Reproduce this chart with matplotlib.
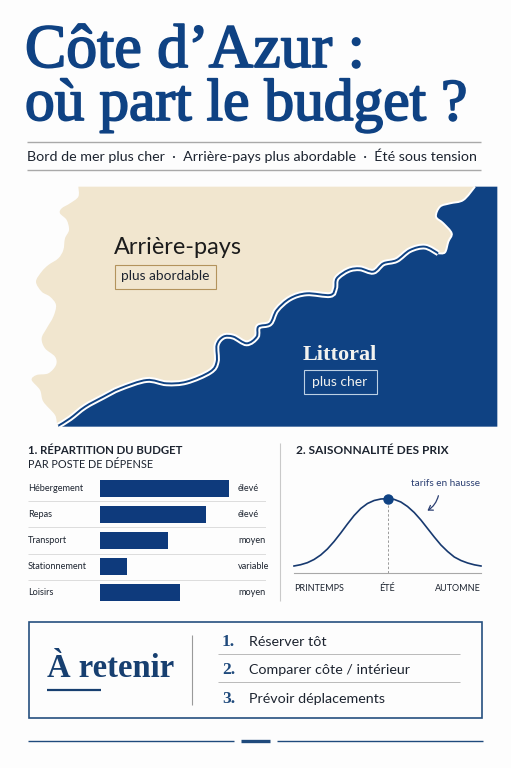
import numpy as np
import matplotlib
matplotlib.use("Agg")
import matplotlib.pyplot as plt
import matplotlib.patheffects as pe
from matplotlib.path import Path
from matplotlib.patches import PathPatch, Rectangle, FancyArrowPatch

W, H = 511, 768
NAVY = "#0f4283"
INK = "#1d2430"
SERIF = "Liberation Serif"
SANS = "Lato"

# bar chart
postes = ["Hébergement", "Repas", "Transport", "Stationnement", "Loisirs"]
poste_vals = [100, 82, 53, 21, 62]
poste_niveaux = ["élevé", "élevé", "moyen", "variable", "moyen"]

# seasonal curve
saison_x = list(range(29))
saison_y = [7, 8.3, 10.3, 13.5, 18, 24, 31.5, 40, 49, 57.5, 64.5, 69.5, 72.5, 74, 74.3,
            73.6, 71, 66.5, 60.5, 53, 44.5, 36, 28, 21.5, 16, 12.5, 10, 8.2, 7]
saison_ticks = [0, 14, 28]
saison_labels = ["PRINTEMPS", "ÉTÉ", "AUTOMNE"]

retenir = ["Réserver tôt", "Comparer côte / intérieur", "Prévoir déplacements"]

terre_gauche = [(175, 35), (175, 65), (150, 85), (125, 100), (120, 115), (140, 135), (147, 165),
                (135, 190), (130, 225), (115, 250), (85, 270), (65, 290), (48, 320), (65, 350),
                (90, 365), (108, 390), (100, 425), (80, 460), (65, 490), (75, 520), (105, 545),
                (108, 570), (85, 595), (50, 600), (35, 615), (60, 645), (70, 680), (105, 720)]
cote = [(115, 752), (150, 730), (195, 695), (250, 665), (300, 640), (380, 615), (440, 625),
        (500, 620), (570, 590), (590, 560), (590, 510), (610, 485), (640, 485), (680, 505),
        (710, 485), (715, 455), (750, 445), (770, 405), (810, 370), (860, 355), (930, 360),
        (945, 340), (950, 310), (985, 285), (1020, 280), (1060, 290), (1090, 265), (1130, 255),
        (1170, 225), (1215, 215), (1255, 235)]
cap = [(1255, 235), (1275, 232), (1285, 200), (1295, 175), (1270, 145), (1248, 125), (1260, 95),
       (1290, 85), (1330, 75), (1365, 35)]


def to_page(pts):
    return [(x / 3 + 20, y / 3 + 175) for x, y in pts]


def smooth(pts):
    pts = np.array(pts, dtype=float)
    n = len(pts)
    verts, codes = [pts[0]], [Path.MOVETO]
    for i in range(n - 1):
        p0, p1, p2, p3 = pts[max(i - 1, 0)], pts[i], pts[i + 1], pts[min(i + 2, n - 1)]
        verts += [p1 + (p2 - p0) / 6, p2 - (p3 - p1) / 6, p2]
        codes += [Path.CURVE4] * 3
    return verts, codes


def closed(pts, extra):
    verts, codes = smooth(to_page(pts))
    for p in to_page(extra):
        verts.append(p)
        codes.append(Path.LINETO)
    verts.append(verts[0])
    codes.append(Path.CLOSEPOLY)
    return Path(verts, codes)


def line(pts):
    verts, codes = smooth(to_page(pts))
    return Path(verts, codes)


def px_axes(x0, y0, x1, y1):
    a = fig.add_axes([x0 / W, 1 - y1 / H, (x1 - x0) / W, (y1 - y0) / H])
    a.patch.set_alpha(0)
    return a


def fat(width, color):
    return [pe.withStroke(linewidth=width, foreground=color)]


fig = plt.figure(figsize=(W / 100, H / 100), dpi=100, facecolor="#fdfdfd")
page = fig.add_axes([0, 0, 1, 1])
page.set_xlim(0, W)
page.set_ylim(H, 0)
page.axis("off")

# header, regular weight thickened with a stroke to keep the narrow set width
page.text(25, 67, "Côte d’Azur :", family=SERIF, size=44.5, color=NAVY, path_effects=fat(1.3, NAVY))
page.text(25, 120, "où part le budget ?", family=SERIF, size=42.8, color=NAVY, path_effects=fat(1.3, NAVY))
page.hlines([142, 169.5], 27, 481, color="#a9a9a9", lw=1)
page.text(27, 161, "Bord de mer plus cher  ·  Arrière-pays plus abordable  ·  Été sous tension",
          family=SANS, size=10.3, color=INK)

# map
page.add_patch(PathPatch(closed(terre_gauche + cote + cap, [(175, 35)]), fc="#f1e6cf", ec="none"))
page.add_patch(PathPatch(closed(cote + cap, [(1432, 35), (1432, 755), (115, 755)]), fc=NAVY, ec="none"))
page.add_patch(PathPatch(line(cote), fc="none", ec="white", lw=4.2))
page.add_patch(PathPatch(line(cote), fc="none", ec=NAVY, lw=1.4))
page.add_patch(PathPatch(line(cap), fc="none", ec="white", lw=1.4))

page.text(114, 254, "Arrière-pays", family=SANS, size=16.9, color="#1c1c1c")
page.add_patch(Rectangle((114.5, 264.5), 101, 24, fc="none", ec="#b3935c", lw=0.8))
page.text(165, 276.5, "plus abordable", family=SANS, size=9.8, color=INK, ha="center", va="center")
page.text(303, 360, "Littoral", family=SERIF, weight="bold", size=16, color="#f2f2ef")
page.add_patch(Rectangle((303.5, 369.5), 73, 24, fc="none", ec="#bcd0e4", lw=0.8))
page.text(340, 382, "plus cher", family=SANS, size=10, color="#f2f2ef", ha="center", va="center")

# section titles
page.text(28, 453.5, "1. RÉPARTITION DU BUDGET", family=SANS, weight="bold", size=8.2, color=INK)
page.text(28, 468.5, "PAR POSTE DE DÉPENSE", family=SANS, size=7.8, color=INK)
page.text(296, 454.5, "2. SAISONNALITÉ DES PRIX", family=SANS, weight="bold", size=8.6, color=INK)
page.vlines(280, 443, 601, color="#c9c9c9", lw=0.8)

# bars
unit = 1.29
ax1 = px_axes(28, 475, 266, 606)
ax1.set_xlim(-72 / unit, 166 / unit)
ax1.set_ylim(4.5, -0.5)
ax1.axis("off")
ypos = list(range(len(postes)))
ax1.barh(ypos, poste_vals, height=0.65, color="#0e3a7c")
ax1.hlines([0.5, 1.5, 2.5, 3.5], -72 / unit, 166 / unit, color="#dcdcdc", lw=0.7)
for y, nom, niv in zip(ypos, postes, poste_niveaux):
    ax1.text(-72 / unit, y, nom, family=SANS, size=6.6, color=INK, va="center")
    ax1.text(138 / unit, y, niv, family=SANS, size=6.6, color=INK, va="center")

# curve
ax2 = px_axes(294, 490, 481, 573)
ax2.set_xlim(0, 28)
ax2.set_ylim(0, 83)
for side in ["top", "left", "right"]:
    ax2.spines[side].set_visible(False)
ax2.spines["bottom"].set_color("#a8a8a8")
ax2.spines["bottom"].set_linewidth(0.8)
ax2.set_yticks([])
ax2.plot(saison_x, saison_y, color="#17396f", lw=1.2, clip_on=False)
peak = int(np.argmax(saison_y))
ax2.vlines(saison_x[peak], 0, saison_y[peak], color="#9a9a9a", lw=0.7, linestyles=(0, (2.5, 2)))
ax2.plot(saison_x[peak], saison_y[peak], "o", ms=6.5, color=NAVY, clip_on=False, zorder=5)
ax2.set_xticks(saison_ticks, saison_labels, family=SANS, size=6.5, color=INK)
ax2.tick_params(axis="x", length=0, pad=8)
for lab, ha in zip(ax2.get_xticklabels(), ["left", "center", "right"]):
    lab.set_ha(ha)

page.text(411, 486, "tarifs en hausse", family=SANS, size=7.2, color="#2b3f72")
page.add_patch(FancyArrowPatch((439, 493), (425, 512), connectionstyle="arc3,rad=-0.25",
                               arrowstyle="->,head_length=3,head_width=2", color="#2b3f72", lw=0.9))

# take-away box
page.add_patch(Rectangle((28.5, 622), 453, 96, fc="none", ec="#25507f", lw=1.2))
page.text(47, 677, "À retenir", family=SERIF, weight="bold", size=23.5, color="#173f70")
page.hlines(690, 47, 101, color="#173f70", lw=1.6)
page.vlines(192, 635, 705, color="#9a9a9a", lw=0.8)
for i, (txt, base) in enumerate(zip(retenir, [646, 674, 703])):
    page.text(222, base, f"{i + 1}.", family=SERIF, weight="bold", size=12.5, color="#1f4a7c")
    page.text(249, base, txt, family=SANS, size=10.3, color=INK)
page.hlines([653.5, 682], 218, 460, color="#b9b9b9", lw=0.7)

# footer
page.hlines(741, 28, 234, color="#1f4a7c", lw=1)
page.hlines(741, 277, 483, color="#1f4a7c", lw=1)
page.hlines(741, 241, 270, color="#1f4a7c", lw=2.4)

fig.savefig("out.png", dpi=100, facecolor=fig.get_facecolor())
